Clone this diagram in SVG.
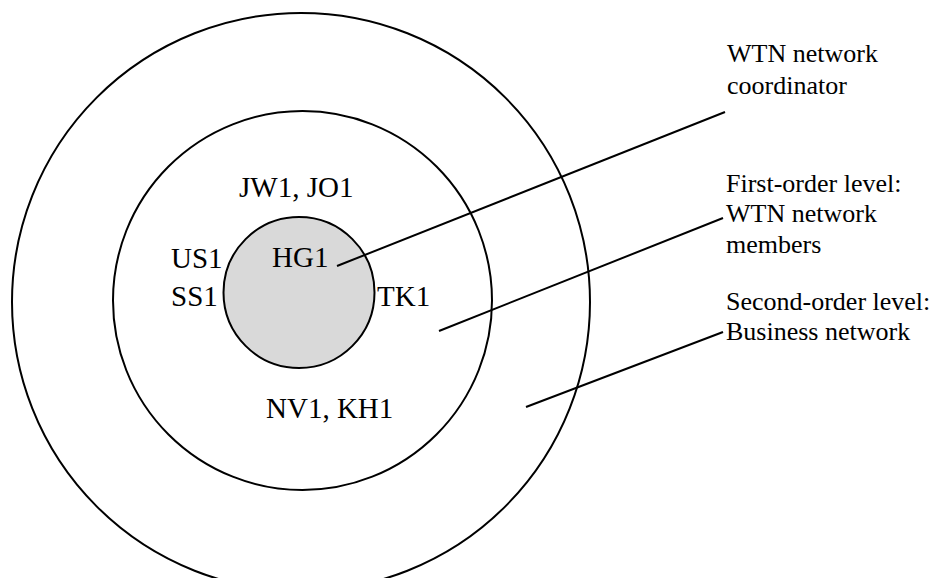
<svg xmlns="http://www.w3.org/2000/svg" width="936" height="578" viewBox="0 0 936 578">
<style>
.ring{fill:none;stroke:#000;stroke-width:2}
.core{fill:#d9d9d9;stroke:#000;stroke-width:2}
.lbl{font-family:"Liberation Serif","Times New Roman",serif;font-size:29px;fill:#000}
.note{font-family:"Liberation Serif","Times New Roman",serif;font-size:26px;fill:#000}
.conn{stroke:#000;stroke-width:2;fill:none}
</style>
<rect width="936" height="578" fill="#fff"/>
<g id="outer-ring">
<circle class="ring" cx="301" cy="302" r="289"/>
</g>
<g id="middle-ring">
<circle class="ring" cx="302.5" cy="300.5" r="189.5"/>
<text class="lbl" x="239" y="197">JW1, JO1</text>
<text class="lbl" x="171" y="268">US1</text>
<text class="lbl" x="171" y="306">SS1</text>
<text class="lbl" x="377" y="306">TK1</text>
<text class="lbl" x="266" y="418">NV1, KH1</text>
</g>
<g id="core">
<circle class="core" cx="299" cy="292.5" r="75.5"/>
<text class="lbl" x="272" y="267">HG1</text>
</g>
<g id="label-coordinator">
<text class="note" x="727" y="62">WTN network</text>
<text class="note" x="727" y="94">coordinator</text>
</g>
<g id="label-first-order">
<text class="note" x="726" y="192">First-order level:</text>
<text class="note" x="726" y="222">WTN network</text>
<text class="note" x="726" y="253">members</text>
</g>
<g id="label-second-order">
<text class="note" x="726" y="310">Second-order level:</text>
<text class="note" x="726" y="340">Business network</text>
</g>
<g id="connectors">
<line class="conn" x1="337" y1="266" x2="725" y2="112"/>
<line class="conn" x1="439" y1="331" x2="723" y2="218"/>
<line class="conn" x1="526" y1="407" x2="723" y2="332"/>
</g>
</svg>
